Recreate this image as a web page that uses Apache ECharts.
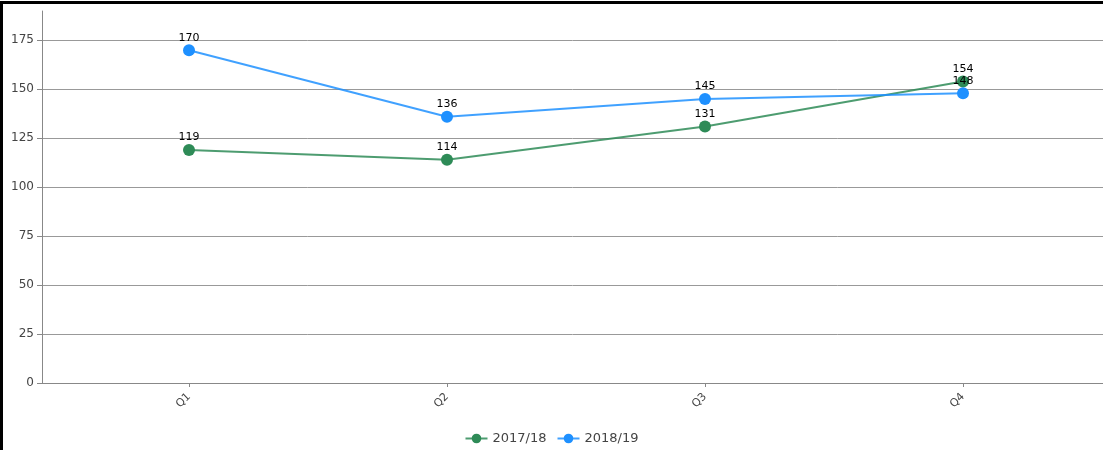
<!DOCTYPE html>
<html>
<head>
<meta charset="utf-8">
<script src="https://cdn.jsdelivr.net/npm/echarts@6/dist/echarts.min.js"></script>
<style>
  html, body { margin: 0; padding: 0; background: #fff; }
  #frame { position: absolute; left: 0; top: 1px; width: 1103px; height: 449px;
           border-top: 3px solid #000; border-left: 3px solid #000; box-sizing: border-box; }
  #main { position: absolute; left: 0; top: 0; width: 1103px; height: 450px; }
</style>
</head>
<body>
<div id="main"></div>
<div id="frame"></div>
<script>
var quarters = ['Q1', 'Q2', 'Q3', 'Q4'];
var season1 = [119, 114, 131, 154];
var season2 = [170, 136, 145, 148];
var seriesNames = ['2017/18', '2018/19'];

var chart = echarts.init(document.getElementById('main'));
var font = 'DejaVu Sans';

function lineSeries(name, values, color) {
    return {
        name: name,
        type: 'line',
        xAxisIndex: 1,
        yAxisIndex: 1,
        data: values,
        symbol: 'circle',
        symbolSize: 12,
        itemStyle: { color: color },
        lineStyle: { color: color, width: 2, opacity: 0.85 },
        label: {
            show: true,
            position: 'top',
            distance: 1,
            color: '#000',
            fontFamily: font,
            fontSize: 11
        },
        emphasis: { disabled: true }
    };
}

var option = {
    animation: false,
    legend: {
        bottom: 0,
        left: 'center',
        itemWidth: 22,
        itemHeight: 12,
        itemGap: 10,
        textStyle: { fontFamily: font, fontSize: 13, color: '#444' },
        data: seriesNames
    },
    grid: [
        { left: 42, right: 0, top: 11, bottom: 67 },
        { left: 60, right: 11, top: 11, bottom: 67 }
    ],
    xAxis: [
        {
            type: 'category',
            gridIndex: 0,
            data: quarters,
            axisLine: { lineStyle: { color: '#888', width: 1 } },
            axisTick: { show: false },
            axisLabel: { show: false }
        },
        {
            type: 'category',
            gridIndex: 1,
            data: quarters,
            axisLine: { show: true, lineStyle: { color: '#888', width: 1 } },
            axisTick: { show: true, alignWithLabel: true, length: 4, lineStyle: { color: '#888' } },
            axisLabel: {
                rotate: 45,
                margin: 12,
                color: '#444',
                fontFamily: font,
                fontSize: 11
            }
        }
    ],
    yAxis: [
        {
            type: 'value',
            gridIndex: 0,
            min: 0,
            max: 190,
            interval: 25,
            axisLine: { show: true, lineStyle: { color: '#888', width: 1 } },
            axisTick: { show: true, length: 5, lineStyle: { color: '#888' } },
            axisLabel: { color: '#444', fontFamily: font, fontSize: 12, margin: 8, showMaxLabel: false },
            splitLine: { show: true, showMaxLine: false, lineStyle: { color: '#999', width: 1 } }
        },
        {
            type: 'value',
            gridIndex: 1,
            min: 0,
            max: 190,
            interval: 25,
            show: false,
            splitLine: { show: false }
        }
    ],
    series: [
        lineSeries(seriesNames[0], season1, '#2e8b57'),
        lineSeries(seriesNames[1], season2, '#1e90ff')
    ]
};
chart.setOption(option);
</script>
</body>
</html>
